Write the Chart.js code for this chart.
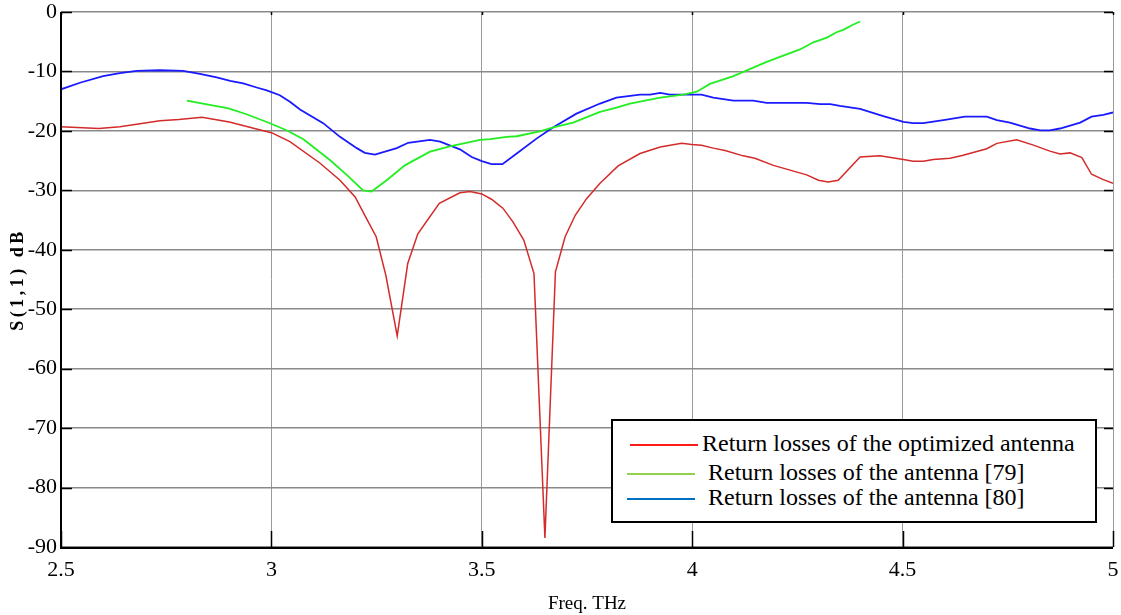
<!DOCTYPE html>
<html>
<head>
<meta charset="utf-8">
<script src="https://cdn.jsdelivr.net/npm/chart.js@4/dist/chart.umd.min.js"></script>
<style>
  html, body { margin: 0; padding: 0; background: #fff; }
  #wrap { position: relative; width: 1121px; height: 615px; }
  #legend { position: absolute; left: 611px; top: 419px; width: 482px; height: 100px;
            border: 2.5px solid #000; background: #fff; font-family: "Liberation Serif", serif;
            font-size: 24px; color: #000; }
  .row { position: absolute; left: 0; height: 26px; line-height: 26px; white-space: pre; }
  .sw { position: absolute; width: 68px; height: 2px; top: 12px; }
  .tx { position: absolute; }
</style>
</head>
<body>
<div id="wrap">
  <canvas id="c" width="1121" height="615"></canvas>
  <div id="legend"></div>
</div>
<script>
// ---- data (frequency in THz, S11 in dB) ----
const redF = [2.50,2.59,2.64,2.735,2.78,2.835,2.90,2.96,3.00,3.044,3.115,3.163,3.199,3.222,3.249,3.272,3.299,3.324,3.348,3.399,3.448,3.472,3.50,3.523,3.55,3.574,3.60,3.624,3.65,3.675,3.698,3.722,3.749,3.781,3.824,3.876,3.924,3.975,3.999,4.022,4.05,4.078,4.121,4.149,4.193,4.272,4.30,4.323,4.347,4.399,4.446,4.502,4.525,4.549,4.573,4.613,4.644,4.70,4.724,4.771,4.811,4.85,4.874,4.898,4.926,4.949,4.977,5.00];
const redS = [-19.3,-19.6,-19.3,-18.3,-18.1,-17.7,-18.5,-19.6,-20.3,-21.8,-25.4,-28.3,-31.1,-34.2,-37.8,-44.3,-54.5,-42.3,-37.3,-32.2,-30.4,-30.2,-30.6,-31.5,-33.0,-35.3,-38.4,-44.0,-88.5,-43.7,-37.8,-34.2,-31.4,-28.8,-25.9,-23.8,-22.7,-22.1,-22.3,-22.4,-22.9,-23.3,-24.2,-24.6,-25.8,-27.4,-28.3,-28.6,-28.3,-24.4,-24.2,-24.8,-25.1,-25.1,-24.8,-24.6,-24.1,-23.0,-22.1,-21.5,-22.4,-23.4,-23.9,-23.7,-24.5,-27.3,-28.2,-28.8];

const greenF = [2.799,2.898,2.941,2.989,3.036,3.076,3.139,3.179,3.218,3.238,3.274,3.317,3.377,3.424,3.496,3.52,3.559,3.583,3.638,3.67,3.717,3.781,3.82,3.852,3.924,3.979,4.011,4.042,4.098,4.177,4.256,4.288,4.32,4.343,4.359,4.383,4.399];
const greenS = [-14.9,-16.2,-17.2,-18.5,-19.9,-21.4,-24.9,-27.4,-30.0,-30.2,-28.3,-25.8,-23.5,-22.6,-21.5,-21.4,-21.0,-20.9,-20.1,-19.4,-18.6,-16.8,-16.1,-15.4,-14.4,-13.9,-13.4,-12.1,-10.8,-8.4,-6.3,-5.1,-4.3,-3.4,-3.0,-2.1,-1.6];

const blueF = [2.50,2.545,2.60,2.64,2.68,2.735,2.79,2.83,2.87,2.902,2.933,2.965,2.989,3.02,3.044,3.068,3.123,3.163,3.203,3.222,3.246,3.298,3.325,3.377,3.401,3.448,3.476,3.50,3.523,3.549,3.583,3.63,3.67,3.725,3.781,3.82,3.876,3.90,3.924,3.947,4.022,4.05,4.098,4.145,4.177,4.272,4.304,4.328,4.351,4.399,4.454,4.502,4.525,4.549,4.597,4.648,4.70,4.724,4.755,4.803,4.827,4.85,4.874,4.922,4.949,4.977,5.00];
const blueS = [-13.0,-11.9,-10.8,-10.3,-9.9,-9.8,-9.9,-10.4,-11.0,-11.6,-12.0,-12.7,-13.2,-14.0,-15.1,-16.4,-18.7,-21.0,-22.9,-23.7,-24.0,-22.9,-22.0,-21.5,-21.8,-23.1,-24.4,-25.1,-25.6,-25.6,-23.8,-21.3,-19.4,-17.1,-15.4,-14.4,-13.9,-13.9,-13.6,-13.9,-13.9,-14.4,-14.9,-14.9,-15.3,-15.3,-15.5,-15.5,-15.8,-16.3,-17.5,-18.5,-18.7,-18.7,-18.2,-17.6,-17.6,-18.2,-18.6,-19.6,-19.9,-19.9,-19.6,-18.6,-17.6,-17.3,-16.9];

const seriesNames = ["Return losses of the optimized antenna", " Return losses of the antenna [79]", " Return losses of the antenna [80]"];
const xTicks = [2.5, 3, 3.5, 4, 4.5, 5];
const yTicks = [0, -10, -20, -30, -40, -50, -60, -70, -80, -90];
const xTitle = "Freq. THz";
const yTitle = "S(1,1) dB";

function pts(f, s) { return f.map((x, i) => ({ x: x, y: s[i] })); }

const lineColors = ["#d42a2a", "#22ee22", "#1a1aff"];
const legendColors = ["#ff1a1a", "#92d050", "#0070c0"];

// legend (HTML)
const lg = document.getElementById('legend');
const rowTops = [9, 38, 63];
const swLeft = [17, 14, 14];
seriesNames.forEach((n, i) => {
  const r = document.createElement('div');
  r.className = 'row'; r.style.top = rowTops[i] + 'px'; r.style.width = '100%';
  const sw = document.createElement('div'); sw.className = 'sw';
  sw.style.left = swLeft[i] + 'px'; sw.style.background = legendColors[i];
  sw.style.top = '14px';
  const tx = document.createElement('div'); tx.className = 'tx'; tx.style.left = '89px';
  tx.textContent = n;
  r.appendChild(sw); r.appendChild(tx); lg.appendChild(r);
});

const innerTicks = {
  id: 'innerTicks',
  afterDatasetsDraw(chart) {
    const { ctx, chartArea: a, scales: { x, y } } = chart;
    ctx.save();
    ctx.strokeStyle = '#000';
    ctx.lineWidth = 1.5;
    ctx.beginPath();
    yTicks.forEach(v => {
      const py = Math.round(y.getPixelForValue(v)) + 0.5;
      if (v !== -90) {
        ctx.moveTo(a.left, py); ctx.lineTo(a.left + 11, py);
        ctx.moveTo(a.right, py); ctx.lineTo(a.right - 9, py);
      }
    });
    xTicks.forEach(v => {
      const px = Math.round(x.getPixelForValue(v)) + 0.5;
      ctx.moveTo(px, a.bottom); ctx.lineTo(px, a.bottom - 16);
      ctx.moveTo(px, a.top); ctx.lineTo(px, a.top + 3);
    });
    ctx.stroke();
    // axes
    ctx.lineWidth = 2;
    ctx.beginPath();
    ctx.moveTo(a.left, a.top); ctx.lineTo(a.left, a.bottom + 1);
    ctx.lineTo(a.right, a.bottom + 1);
    ctx.stroke();
    // y title with letter spacing
    ctx.save();
    ctx.translate(18, (a.top + a.bottom) / 2);
    ctx.rotate(-Math.PI / 2);
    ctx.font = 'bold 18px "Liberation Serif", serif';
    ctx.letterSpacing = '3.5px';
    ctx.fillStyle = '#000';
    ctx.textAlign = 'center';
    ctx.textBaseline = 'middle';
    ctx.fillText(yTitle, 0, 0);
    ctx.restore();
    ctx.restore();
  }
};

function build() {
  new Chart(document.getElementById('c'), {
    type: 'line',
    data: {
      datasets: [
        { label: seriesNames[0], data: pts(redF, redS), borderColor: lineColors[0], borderWidth: 1.5 },
        { label: seriesNames[1], data: pts(greenF, greenS), borderColor: lineColors[1], borderWidth: 1.8 },
        { label: seriesNames[2], data: pts(blueF, blueS), borderColor: lineColors[2], borderWidth: 1.8 }
      ]
    },
    options: {
      responsive: false,
      animation: false,
      elements: { point: { radius: 0 }, line: { tension: 0 } },
      layout: { padding: { left: 0, top: 12, right: 8, bottom: 0 } },
      plugins: { legend: { display: false }, tooltip: { enabled: false } },
      scales: {
        x: {
          type: 'linear', min: 2.5, max: 5,
          afterBuildTicks: s => { s.ticks = xTicks.map(v => ({ value: v })); },
          afterFit: s => { s.height = 68; s.paddingLeft = 0; s.paddingRight = 0; },
          grid: { color: '#9a9a9a', lineWidth: 1, drawTicks: false },
          border: { display: false },
          ticks: { color: '#000', padding: 10, font: { family: '"Liberation Serif", serif', size: 22 }, maxRotation: 0,
                   callback: v => String(v) },
          title: { display: true, text: xTitle, color: '#000', padding: { top: 0, bottom: 0 },
                   font: { family: '"Liberation Serif", serif', size: 19 } }
        },
        y: {
          type: 'linear', min: -90, max: 0,
          afterBuildTicks: s => { s.ticks = yTicks.map(v => ({ value: v })); },
          afterFit: s => { s.width = 61; s.paddingTop = 0; s.paddingBottom = 0; },
          grid: { color: '#8a8a8a', lineWidth: 1.5, drawTicks: false },
          border: { display: false },
          ticks: { color: '#000', padding: 4, font: { family: '"Liberation Serif", serif', size: 22 },
                   callback: v => String(v) },
          title: { display: false }
        }
      }
    },
    plugins: [innerTicks]
  });
}
Promise.all([
  document.fonts.load('22px "Liberation Serif"'),
  document.fonts.load('bold 18px "Liberation Serif"')
]).then(build, build);
</script>
</body>
</html>
